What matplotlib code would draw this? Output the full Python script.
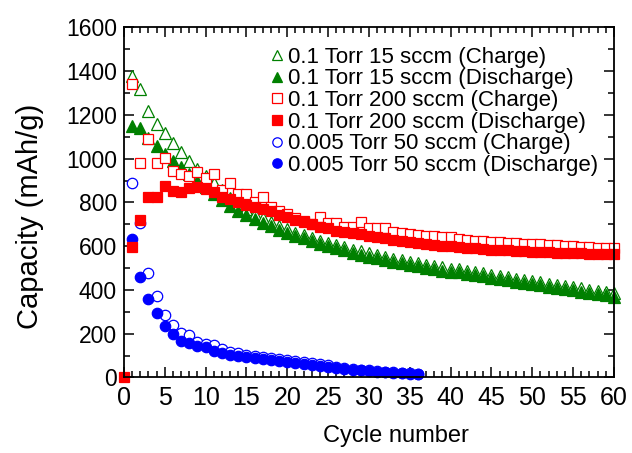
import matplotlib
matplotlib.use("Agg")
import matplotlib.pyplot as plt
from matplotlib.ticker import MultipleLocator

plt.rcParams['font.family'] = ['Liberation Sans', 'DejaVu Sans']

# capacity data (mAh/g) per cycle
cycles_green = list(range(1, 61))
green_charge = [1380, 1320, 1218, 1161, 1118, 1072, 1031, 990, 955, 921,
                890, 855, 822, 795, 770, 748, 728, 710, 693, 678,
                662, 650, 638, 626, 615, 605, 595, 585, 576, 567,
                559, 551, 543, 536, 529, 522, 515, 509, 503, 497,
                494, 488, 482, 476, 470, 464, 458, 452, 446, 441,
                435, 429, 424, 418, 412, 407, 401, 396, 390, 384]
green_discharge = [1150, 1140, 1095, 1060, 1020, 990, 960, 930, 900, 870,
                   838, 810, 785, 762, 742, 724, 707, 691, 676, 662,
                   648, 636, 624, 612, 601, 591, 581, 571, 562, 553,
                   545, 537, 529, 522, 515, 508, 501, 495, 489, 483,
                   480, 474, 468, 462, 456, 450, 444, 438, 432, 427,
                   421, 415, 410, 404, 398, 393, 387, 382, 376, 370]

cycles_red_c = list(range(1, 61))
red_charge = [1340, 981, 1092, 981, 1004, 944, 928, 920, 940, 914,
              930, 856, 890, 838, 838, 803, 823, 780, 762, 747,
              727, 716, 701, 734, 704, 704, 690, 690, 713, 685,
              683, 683, 665, 660, 655, 650, 648, 645, 642, 640,
              635, 630, 625, 622, 620, 618, 616, 614, 612, 610,
              608, 606, 604, 602, 600, 598, 596, 594, 592, 590]
cycles_red_d = list(range(0, 61))
red_discharge = [0, 597, 722, 826, 826, 876, 852, 848, 864, 871, 861,
                 848, 826, 815, 800, 790, 780, 772, 760, 745, 735,
                 720, 712, 700, 690, 683, 670, 664, 660, 655, 648,
                 640, 636, 630, 625, 620, 615, 611, 607, 603, 600,
                 597, 593, 590, 587, 585, 583, 581, 579, 577, 575,
                 574, 572, 571, 569, 568, 567, 566, 565, 564, 563]

cycles_blue = list(range(1, 37))
blue_charge = [887, 705, 479, 372, 285, 240, 205, 194, 164, 153,
               150, 128, 118, 112, 105, 100, 95, 90, 84, 80,
               75, 70, 65, 60, 56, 50, 45, 40, 36, 33,
               30, 27, 24, 21, 19, 17]
blue_discharge = [631, 460, 357, 293, 235, 199, 168, 159, 144, 138,
                  120, 112, 105, 100, 95, 90, 85, 80, 74, 70,
                  66, 62, 58, 54, 50, 45, 40, 36, 33, 30,
                  27, 24, 21, 19, 17, 15]

green = '#008000'
red = '#ff0000'
blue = '#0000ff'
ms = 8
mew = 0.9

fig = plt.figure(figsize=(6.32, 4.53), dpi=100)
ax = fig.add_axes([0.1962, 0.1667, 0.7753, 0.7726])

h1, = ax.plot(cycles_green, green_charge, '^', ms=ms, mfc='white', mec=green, mew=mew,
              label='0.1 Torr 15 sccm (Charge)', clip_on=False)
h2, = ax.plot(cycles_green, green_discharge, '^', ms=ms, mfc=green, mec=green, mew=mew,
              label='0.1 Torr 15 sccm (Discharge)', clip_on=False)
h5, = ax.plot(cycles_blue, blue_charge, 'o', ms=ms - 0.5, mfc='white', mec=blue, mew=mew,
              label='0.005 Torr 50 sccm (Charge)', clip_on=False)
h6, = ax.plot(cycles_blue, blue_discharge, 'o', ms=ms - 0.5, mfc=blue, mec=blue, mew=mew,
              label='0.005 Torr 50 sccm (Discharge)', clip_on=False)
h3, = ax.plot(cycles_red_c, red_charge, 's', ms=ms - 0.5, mfc='white', mec=red, mew=mew,
              label='0.1 Torr 200 sccm (Charge)', clip_on=False)
h4, = ax.plot(cycles_red_d, red_discharge, 's', ms=ms - 0.5, mfc=red, mec=red, mew=mew,
              label='0.1 Torr 200 sccm (Discharge)', clip_on=False)

ax.set_xlim(0, 60)
ax.set_ylim(0, 1600)
ax.xaxis.set_major_locator(MultipleLocator(5))
ax.xaxis.set_minor_locator(MultipleLocator(1))
ax.yaxis.set_major_locator(MultipleLocator(200))
ax.yaxis.set_minor_locator(MultipleLocator(100))
ax.tick_params(which='both', direction='in', top=True, right=True, width=1.1)
ax.tick_params(which='major', length=7)
ax.tick_params(which='minor', length=4)
ax.tick_params(axis='x', labelsize=18, pad=6)
ax.tick_params(axis='y', labelsize=16.5, pad=5)
for s in ax.spines.values():
    s.set_linewidth(1.3)

ax.set_xlabel('Cycle number', fontsize=17)
ax.xaxis.set_label_coords(0.555, -0.135)
ax.set_ylabel('Capacity (mAh/g)', fontsize=21)
ax.yaxis.set_label_coords(-0.163, 0.46)

ax.legend(handles=[h1, h2, h3, h4, h5, h6], loc='upper left', bbox_to_anchor=(0.296, 0.945),
          frameon=False, fontsize=16, borderpad=0, borderaxespad=0, handlelength=0.75,
          handletextpad=0.1, labelspacing=0.03, markerscale=0.9)

plt.savefig('out.png', dpi=100)
